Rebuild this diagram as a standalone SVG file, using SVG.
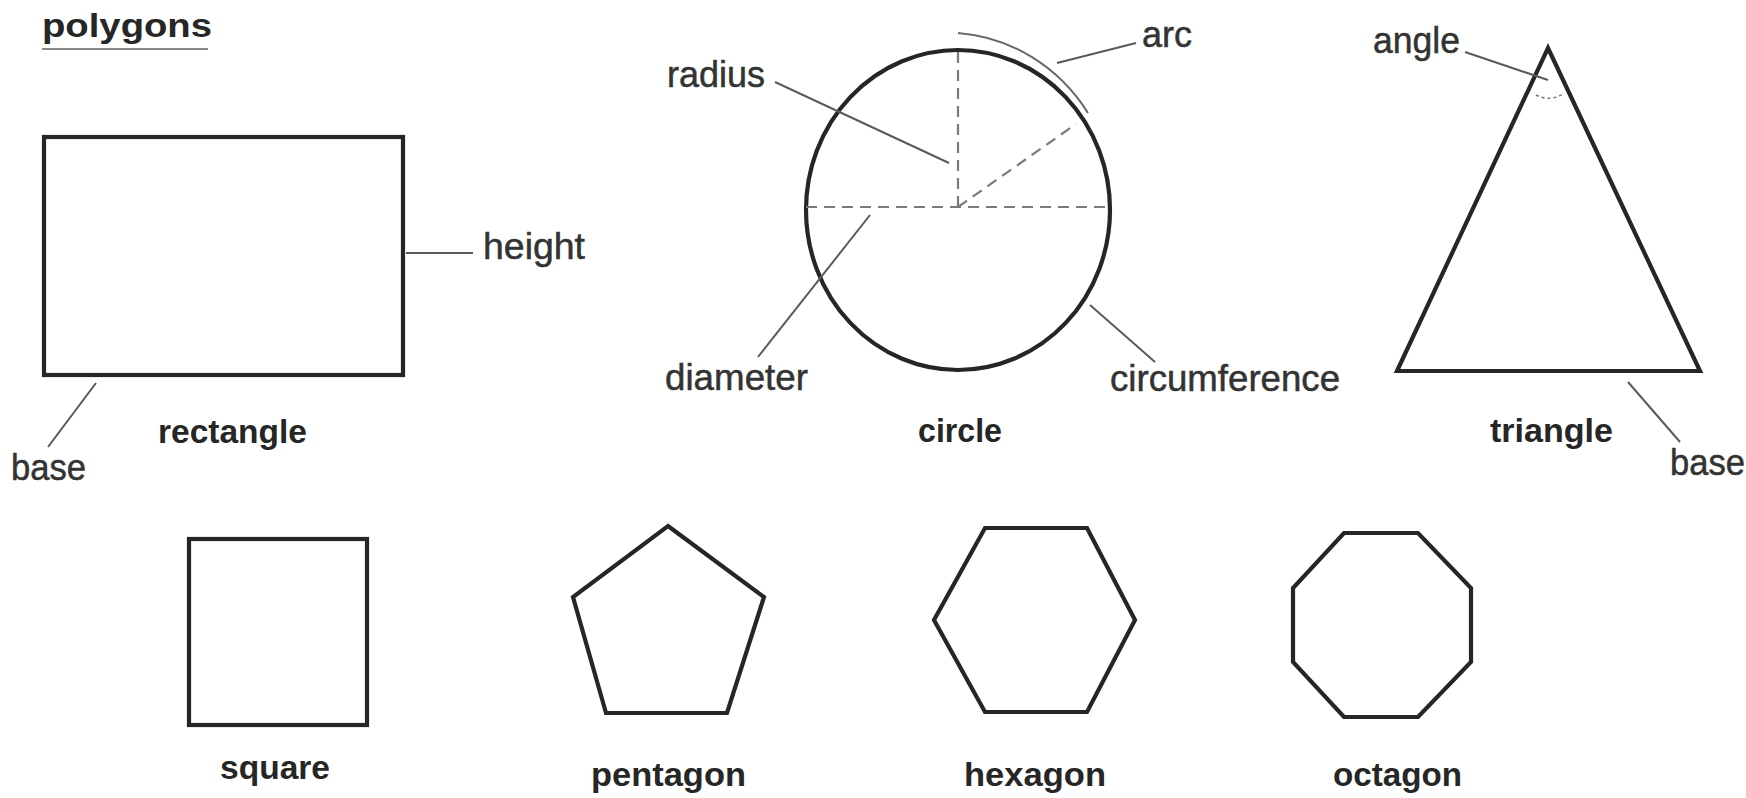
<svg xmlns="http://www.w3.org/2000/svg" width="1746" height="798" viewBox="0 0 1746 798">
<style>
.shape{fill:none;stroke:#262626;stroke-width:4.2;stroke-linejoin:miter}
.lead{fill:none;stroke:#5a5a5a;stroke-width:2}
.dash{fill:none;stroke:#7a7a7a;stroke-width:2.2;stroke-dasharray:11 7}
.lbl{font-family:"Liberation Sans",Arial,sans-serif;font-size:36px;fill:#333;stroke:#333;stroke-width:0.5}
.ttl{font-family:"Liberation Sans",Arial,sans-serif;font-size:34px;font-weight:bold;fill:#262626}
</style>
<rect width="1746" height="798" fill="#ffffff"/>
<g id="title">
<text class="ttl" x="42" y="37" font-size="38" textLength="170" lengthAdjust="spacingAndGlyphs">polygons</text>
<line x1="42" y1="49" x2="208" y2="49" stroke="#8a8a8a" stroke-width="2"/>
</g>
<g id="rectangle">
<rect class="shape" x="44" y="137" width="359" height="238"/>
<text class="ttl" x="158" y="443" textLength="149" lengthAdjust="spacingAndGlyphs">rectangle</text>
<text class="lbl" x="483" y="259" textLength="102" lengthAdjust="spacingAndGlyphs">height</text>
<text class="lbl" x="11" y="480" textLength="75" lengthAdjust="spacingAndGlyphs">base</text>
</g>
<g id="circle">
<ellipse class="shape" cx="958" cy="210" rx="152" ry="160"/>
<line class="dash" x1="958" y1="52" x2="958" y2="207"/>
<line class="dash" x1="806" y1="207" x2="1110" y2="207"/>
<line class="dash" x1="958" y1="207" x2="1076" y2="124"/>
<path d="M 958 33 A 170 177 0 0 1 1088 113" fill="none" stroke="#6a6a6a" stroke-width="2"/>
<text class="ttl" x="918" y="442" textLength="84" lengthAdjust="spacingAndGlyphs">circle</text>
<text class="lbl" x="667" y="87" textLength="98" lengthAdjust="spacingAndGlyphs">radius</text>
<text class="lbl" x="1142" y="47" textLength="50" lengthAdjust="spacingAndGlyphs">arc</text>
<text class="lbl" x="665" y="390" textLength="143" lengthAdjust="spacingAndGlyphs">diameter</text>
<text class="lbl" x="1110" y="391" textLength="230" lengthAdjust="spacingAndGlyphs">circumference</text>
</g>
<g id="triangle">
<polygon class="shape" points="1548,48 1700,371 1397,371"/>
<path d="M 1536 95 Q 1549 102 1563 94" fill="none" stroke="#777" stroke-width="1.6" stroke-dasharray="3 3"/>
<text class="ttl" x="1490" y="442" textLength="123" lengthAdjust="spacingAndGlyphs">triangle</text>
<text class="lbl" x="1373" y="53" textLength="87" lengthAdjust="spacingAndGlyphs">angle</text>
<text class="lbl" x="1670" y="475" textLength="75" lengthAdjust="spacingAndGlyphs">base</text>
</g>
<g id="square">
<rect class="shape" x="189" y="539" width="178" height="186"/>
<text class="ttl" x="220" y="779" textLength="110" lengthAdjust="spacingAndGlyphs">square</text>
</g>
<g id="pentagon">
<polygon class="shape" points="668,526 764,597 727,713 606,713 573,597"/>
<text class="ttl" x="591" y="786" textLength="155" lengthAdjust="spacingAndGlyphs">pentagon</text>
</g>
<g id="hexagon">
<polygon class="shape" points="985,528 1087,528 1135,620 1087,712 985,712 934,620"/>
<text class="ttl" x="964" y="786" textLength="142" lengthAdjust="spacingAndGlyphs">hexagon</text>
</g>
<g id="octagon">
<polygon class="shape" points="1344,533 1418,533 1471,588 1471,662 1418,717 1344,717 1293,662 1293,588"/>
<text class="ttl" x="1333" y="786" textLength="129" lengthAdjust="spacingAndGlyphs">octagon</text>
</g>
<g id="connectors">
<line class="lead" x1="406" y1="253" x2="473" y2="253"/>
<line class="lead" x1="96" y1="383" x2="48" y2="447"/>
<line class="lead" x1="775" y1="82" x2="949" y2="163"/>
<line class="lead" x1="1057" y1="63" x2="1136" y2="43"/>
<line class="lead" x1="870" y1="215" x2="758" y2="357"/>
<line class="lead" x1="1090" y1="305" x2="1155" y2="362"/>
<line class="lead" x1="1465" y1="52" x2="1548" y2="80"/>
<line class="lead" x1="1628" y1="382" x2="1680" y2="442"/>
</g>
</svg>
